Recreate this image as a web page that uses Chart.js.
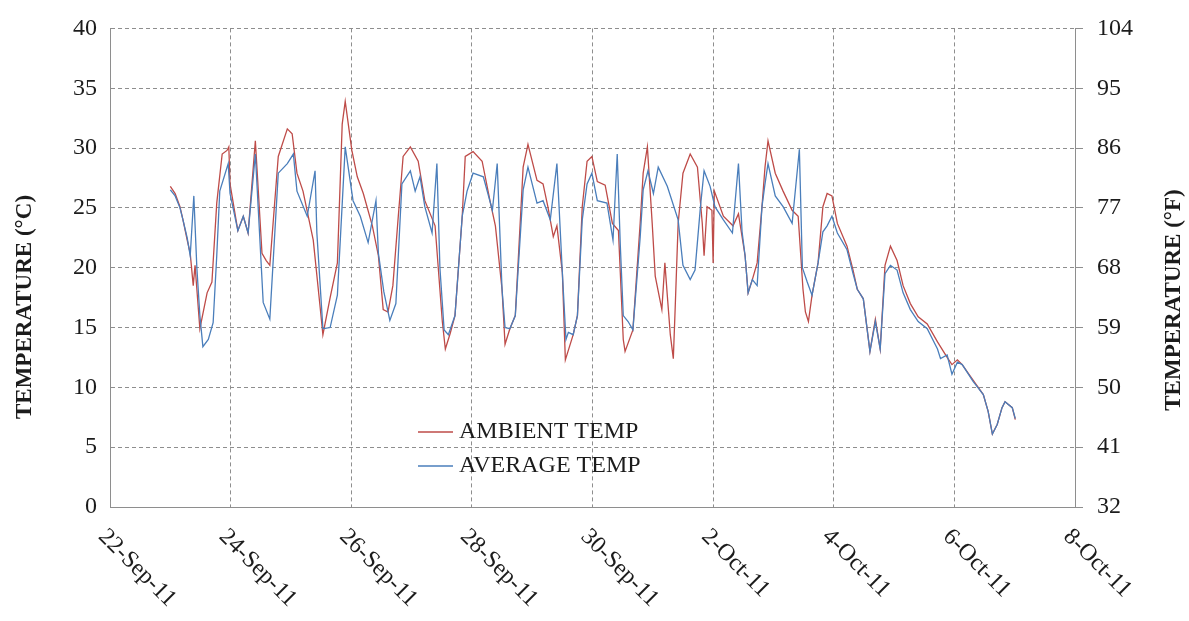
<!DOCTYPE html>
<html>
<head>
<meta charset="utf-8">
<script src="https://cdn.jsdelivr.net/npm/chart.js@4.4.0/dist/chart.umd.min.js"></script>
<style>
  html, body { margin: 0; padding: 0; background: #fff; }
</style>
</head>
<body>
<canvas id="chart" width="1189" height="621"></canvas>
<script>
// days after 22-Sep-11 00:00
const ambientDays = [
  1.00,1.08,1.16,1.21,1.28,1.33,1.38,1.41,1.49,1.61,
  1.69,1.77,1.86,1.94,1.97,1.99,2.12,2.21,2.29,2.41,
  2.52,2.59,2.65,2.79,2.94,3.02,3.10,3.20,3.37,3.48,
  3.53,3.65,3.77,3.85,3.90,4.01,4.10,4.20,4.35,4.45,
  4.53,4.61,4.69,4.78,4.86,4.98,5.11,5.22,5.39,5.51,
  5.56,5.64,5.72,5.84,5.89,6.02,6.17,6.30,6.39,6.50,
  6.55,6.63,6.72,6.85,6.93,7.08,7.18,7.26,7.35,7.41,
  7.50,7.55,7.68,7.75,7.83,7.91,7.99,8.08,8.21,8.33,
  8.43,8.51,8.54,8.67,8.79,8.84,8.91,8.99,9.04,9.15,
  9.20,9.24,9.29,9.34,9.37,9.42,9.50,9.62,9.74,9.82,
  9.85,9.90,9.98,10.00,10.02,10.17,10.33,10.42,10.53,10.58,
  10.65,10.73,10.81,10.86,10.91,11.03,11.16,11.31,11.41,11.49,
  11.53,11.58,11.64,11.74,11.82,11.89,11.97,12.06,12.22,12.32,
  12.39,12.49,12.60,12.69,12.77,12.85,12.94,13.05,13.15,13.27,
  13.40,13.55,13.72,13.88,13.96,14.05,14.13,14.31,14.48,14.56,
  14.63,14.71,14.79,14.84,14.96,15.01
]
const ambientTemp = [
  26.8,26.2,25.1,24.0,22.3,21.2,18.5,20.2,14.9,17.9,
  18.8,25.4,29.5,29.8,30.1,27.0,23.1,24.3,22.9,30.6,
  21.2,20.6,20.2,29.3,31.6,31.2,27.9,26.4,22.3,16.9,
  14.4,17.5,20.4,32.0,33.9,29.8,27.6,26.2,23.5,21.0,
  16.5,16.3,18.5,24.3,29.3,30.1,28.9,25.6,23.5,15.5,
  13.2,14.5,16.0,24.3,29.3,29.7,28.9,25.6,23.5,18.2,
  13.6,14.9,16.0,28.4,30.3,27.3,27.0,25.1,22.6,23.5,
  19.6,12.3,14.4,16.0,25.1,28.9,29.3,27.2,26.9,23.7,
  23.1,14.0,13.0,14.8,23.7,27.9,30.1,23.7,19.3,16.5,
  20.4,17.7,14.4,12.4,16.5,23.7,27.9,29.5,28.4,23.7,
  21.0,25.1,24.8,20.4,26.4,24.3,23.5,24.5,21.0,17.9,
  19.0,20.4,25.1,28.4,30.6,27.9,26.4,24.8,24.3,18.2,
  16.3,15.5,17.7,20.4,25.1,26.2,26.0,23.7,21.8,19.8,
  18.2,17.4,13.0,15.7,13.2,20.2,21.8,20.6,18.5,17.0,
  15.9,15.3,13.8,12.5,11.9,12.3,11.9,10.6,9.4,8.0,
  6.1,6.9,8.3,8.8,8.3,7.3
]
const averageDays = [
  1.00,1.08,1.16,1.21,1.28,1.33,1.39,1.44,1.49,1.54,
  1.63,1.71,1.77,1.82,1.96,1.99,2.12,2.21,2.29,2.41,
  2.54,2.65,2.79,2.94,3.04,3.10,3.27,3.40,3.43,3.53,
  3.65,3.77,3.90,4.03,4.15,4.28,4.41,4.45,4.54,4.64,
  4.74,4.84,4.98,5.06,5.14,5.22,5.34,5.42,5.47,5.54,
  5.61,5.72,5.84,5.92,6.02,6.19,6.34,6.42,6.50,6.55,
  6.63,6.72,6.85,6.93,7.08,7.18,7.30,7.41,7.50,7.56,
  7.60,7.68,7.75,7.83,7.91,7.99,8.08,8.24,8.34,8.41,
  8.46,8.51,8.59,8.67,8.79,8.84,8.92,9.01,9.09,9.24,
  9.42,9.50,9.62,9.70,9.79,9.85,9.95,10.03,10.17,10.32,
  10.42,10.48,10.53,10.58,10.65,10.73,10.81,10.86,10.91,11.03,
  11.16,11.31,11.43,11.48,11.56,11.64,11.74,11.82,11.89,11.97,
  12.06,12.22,12.32,12.39,12.49,12.60,12.69,12.77,12.85,12.94,
  13.05,13.15,13.27,13.40,13.55,13.72,13.77,13.88,13.96,14.05,
  14.13,14.31,14.48,14.56,14.63,14.71,14.79,14.84,14.96,15.01
]
const averageTemp = [
  26.5,26.0,25.0,24.0,22.5,21.0,26.0,20.0,16.0,13.4,
  14.0,15.4,21.0,26.4,28.7,26.2,23.1,24.3,22.9,29.5,
  17.1,15.7,27.9,28.7,29.5,26.4,24.3,28.1,22.9,14.9,
  15.0,17.7,30.1,25.6,24.3,22.1,25.6,21.2,18.0,15.6,
  17.0,27.0,28.1,26.4,27.6,25.1,22.9,28.7,20.0,14.8,
  14.4,16.0,24.3,26.4,27.9,27.6,24.8,28.7,18.2,15.0,
  14.9,16.0,26.5,28.4,25.4,25.6,24.0,28.7,19.6,14.0,
  14.6,14.4,16.0,24.0,27.0,27.9,25.6,25.4,22.3,29.5,
  22.0,16.0,15.5,14.8,22.5,26.5,28.1,26.2,28.4,26.8,
  24.0,20.2,19.0,19.8,25.1,28.1,26.8,25.1,24.0,22.9,
  28.7,23.0,21.0,17.9,19.0,18.5,25.1,27.0,28.7,26.0,
  25.1,23.7,29.9,20.0,18.8,17.7,20.4,23.0,23.5,24.3,
  22.9,21.5,19.5,18.2,17.4,13.0,15.5,13.2,19.5,20.2,
  19.8,17.9,16.5,15.5,14.9,13.2,12.4,12.7,11.1,12.1,
  11.9,10.5,9.4,8.0,6.1,6.9,8.3,8.8,8.3,7.4
]
const dateLabels = ['22-Sep-11','24-Sep-11','26-Sep-11','28-Sep-11','30-Sep-11','2-Oct-11','4-Oct-11','6-Oct-11','8-Oct-11']

const FONT = "'Liberation Serif', 'DejaVu Serif', serif"
const GRID = '#8e8e8e'
const TEXT = '#1c1c1c'

const toPoints = (xs, ys) => xs.map((x, i) => ({ x, y: ys[i] }))

// rotated date labels, text running down to the right from each tick
const dateLabelPlugin = {
  id: 'dateLabels',
  afterDraw(chart) {
    const { ctx } = chart
    const xs = chart.scales.x
    const bottom = chart.chartArea.bottom
    ctx.save()
    ctx.font = `24px ${FONT}`
    ctx.fillStyle = TEXT
    ctx.textAlign = 'left'
    ctx.textBaseline = 'middle'
    dateLabels.forEach((lab, i) => {
      const px = xs.getPixelForValue(i * 2)
      ctx.save()
      ctx.translate(px - 8, bottom + 26)
      ctx.rotate(Math.PI / 4)
      ctx.fillText(lab, 0, 0)
      ctx.restore()
    })
    ctx.restore()
  }
}

const titlesPlugin = {
  id: 'titles',
  afterDraw(chart) {
    const { ctx } = chart
    ctx.save()
    ctx.font = `bold 23px ${FONT}`
    ctx.fillStyle = TEXT
    ctx.textAlign = 'center'
    ctx.textBaseline = 'middle'
    ;[[25, 307, 'TEMPERATURE (°C)'], [1174, 300, 'TEMPERATURE (°F)']].forEach(([x, y, t]) => {
      ctx.save()
      ctx.translate(x, y)
      ctx.rotate(-Math.PI / 2)
      ctx.fillText(t, 0, 0)
      ctx.restore()
    })
    ctx.restore()
  }
}

const legendPlugin = {
  id: 'insideLegend',
  afterDatasetsDraw(chart) {
    const { ctx } = chart
    ctx.save()
    ctx.font = `24px ${FONT}`
    ctx.textBaseline = 'middle'
    ctx.textAlign = 'left'
    chart.data.datasets.forEach((ds, i) => {
      const y = 432 + i * 34
      ctx.strokeStyle = ds.borderColor
      ctx.lineWidth = 1.3
      ctx.beginPath(); ctx.moveTo(418, y); ctx.lineTo(453, y); ctx.stroke()
      ctx.fillStyle = TEXT
      ctx.fillText(ds.label, 459, y)
    })
    ctx.restore()
  }
}

new Chart(document.getElementById('chart'), {
  type: 'line',
  data: {
    datasets: [
      { label: 'AMBIENT TEMP', data: toPoints(ambientDays, ambientTemp), borderColor: '#be4b48',
        borderWidth: 1.3, pointRadius: 0, tension: 0, order: 1 },
      { label: 'AVERAGE TEMP', data: toPoints(averageDays, averageTemp), borderColor: '#4a7ebb',
        borderWidth: 1.3, pointRadius: 0, tension: 0, order: 0 },
    ]
  },
  options: {
    responsive: false, animation: false, devicePixelRatio: 1,
    layout: { padding: { top: 23, left: 0, right: 0, bottom: 0 } },
    plugins: { legend: { display: false }, tooltip: { enabled: false } },
    scales: {
      x: {
        type: 'linear', min: 0, max: 16,
        ticks: { stepSize: 2, display: false },
        grid: { color: GRID, drawTicks: false },
        border: { color: GRID, dash: [4, 3] },
        afterFit: s => { s.height = 114 }
      },
      y: {
        min: 0, max: 40,
        ticks: { stepSize: 5, padding: 13, color: TEXT, font: { family: FONT, size: 24 } },
        grid: { color: GRID, drawTicks: false },
        border: { color: GRID, dash: [4, 3] },
        afterFit: s => { s.width = 110 }
      },
      y2: {
        position: 'right', min: 32, max: 104,
        ticks: { stepSize: 9, padding: 14, color: TEXT, font: { family: FONT, size: 24 } },
        grid: { drawOnChartArea: false, tickLength: 8, tickColor: GRID },
        border: { color: GRID },
        afterFit: s => { s.width = 114 }
      }
    }
  },
  plugins: [dateLabelPlugin, titlesPlugin, legendPlugin]
})
</script>
</body>
</html>
